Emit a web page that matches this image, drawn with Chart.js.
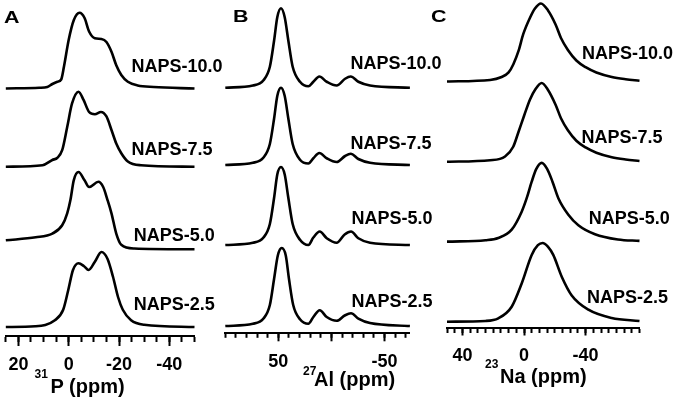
<!DOCTYPE html>
<html>
<head>
<meta charset="utf-8">
<script src="https://cdn.jsdelivr.net/npm/chart.js@4.4.0/dist/chart.umd.min.js"></script>
<style>
    html, body { margin: 0; padding: 0; background: #fff; }
    #figure { position: relative; width: 678px; height: 399px; overflow: hidden;
              font-family: "Liberation Sans", Arial, sans-serif; font-weight: bold; color: #000; }
    #figure canvas { position: absolute; left: 0; top: 0; }
    .lbl { position: absolute; white-space: nowrap; line-height: 1; }
    .panel { font-size: 16.5px; transform: scaleX(1.3); transform-origin: left top; }
    .naps { font-size: 18px; }
    .sup { font-size: 12px; }
    .axt { font-size: 20px; }
</style>
</head>
<body>
<div id="figure">
    <canvas id="chart-p" width="678" height="399"></canvas>
    <canvas id="chart-al" width="678" height="399"></canvas>
    <canvas id="chart-na" width="678" height="399"></canvas>
</div>
<script>
// sample names, bottom trace first
const samples = ['NAPS-2.5', 'NAPS-5.0', 'NAPS-7.5', 'NAPS-10.0'];

// 31P MAS NMR, [ppm, relative intensity]
const p31_naps25 = [[25, 0], [13.3, 0.01], [5.5, 0.09], [2.2, 0.23], [0.2, 0.49], [-1.7, 0.76], [-3.9, 0.85],
    [-6.1, 0.81], [-7.9, 0.76], [-10.4, 0.87], [-13, 1.0], [-15.4, 0.91], [-17.6, 0.67], [-19.6, 0.4],
    [-21.5, 0.23], [-24.8, 0.09], [-30, 0.03], [-50, 0]];
const p31_naps50 = [[25, 0.12], [13.1, 0.16], [6.5, 0.21], [2.6, 0.32], [0.6, 0.48], [-0.7, 0.66], [-2, 0.92],
    [-3.9, 1.03], [-6.3, 0.92], [-8.1, 0.83], [-11.8, 0.9], [-13.7, 0.83], [-15.4, 0.66], [-17, 0.48],
    [-18.9, 0.21], [-20.9, 0.06], [-26.1, 0.01], [-50, 0]];
const p31_naps75 = [[25, 0], [10.4, 0.02], [6.5, 0.09], [4.5, 0.12], [2.6, 0.22], [0.6, 0.53], [-1.3, 0.84],
    [-3.9, 1.0], [-5.9, 0.89], [-8.1, 0.73], [-10.4, 0.7], [-12.8, 0.73], [-15, 0.67], [-17, 0.49],
    [-18.9, 0.31], [-20.9, 0.18], [-23.5, 0.07], [-28.7, 0.02], [-50, 0]];
const p31_naps100 = [[25, 0], [11.7, 0.01], [8.5, 0.02], [6.5, 0.06], [4.5, 0.09], [3, 0.12], [1.9, 0.29],
    [0, 0.65], [-2, 0.91], [-4.3, 1.01], [-6.3, 0.94], [-8.1, 0.76], [-10.4, 0.67], [-13, 0.66], [-15, 0.62],
    [-17, 0.49], [-18.9, 0.31], [-20.9, 0.18], [-23.5, 0.09], [-27.4, 0.04], [-33.8, 0.02], [-50, 0]];

// 27Al MAS NMR
const al27_naps25 = [[100, 0], [74, 0.03], [64, 0.1], [58, 0.28], [54, 0.63], [50.5, 0.94], [46.8, 1.04],
    [43, 0.94], [40, 0.63], [36, 0.28], [29.6, 0.09], [21.7, 0.03], [17, 0.12], [11, 0.21], [4.4, 0.12],
    [-5, 0.07], [-12.5, 0.14], [-18.5, 0.17], [-25.4, 0.1], [-36.4, 0.04], [-74, 0]];
const al27_naps50 = [[100, 0], [74, 0.03], [64, 0.1], [58, 0.28], [54, 0.63], [51, 0.94], [47.5, 1.04],
    [44, 0.94], [40.6, 0.63], [36.5, 0.28], [29.6, 0.07], [21.7, 0], [17, 0.1], [11, 0.18], [4.4, 0.09],
    [-5, 0.03], [-12.5, 0.14], [-18.5, 0.18], [-25.4, 0.09], [-36.4, 0.03], [-74, 0]];
const al27_naps75 = [[100, 0], [74, 0.03], [64, 0.1], [58, 0.28], [54, 0.62], [51, 0.92], [47.5, 1.03],
    [44, 0.92], [40.6, 0.62], [36.5, 0.28], [29.6, 0.07], [21.7, 0.02], [17, 0.09], [11.4, 0.16], [4.4, 0.09],
    [-5, 0.04], [-12.9, 0.12], [-18.2, 0.15], [-25.4, 0.08], [-36.4, 0.03], [-74, 0]];
const al27_naps100 = [[100, 0], [74, 0.03], [64, 0.1], [58, 0.28], [54, 0.63], [51, 0.94], [47.5, 1.06],
    [44, 0.94], [40.6, 0.63], [36.5, 0.28], [29.6, 0.08], [21.7, 0.02], [17, 0.08], [11.4, 0.15], [4.4, 0.08],
    [-5, 0.03], [-12.9, 0.12], [-18.2, 0.15], [-25.4, 0.08], [-36.4, 0.03], [-74, 0]];

// 23Na MAS NMR
const na23_naps25 = [[50, 0], [25, 0.01], [16.7, 0.045], [8, 0.2], [1.5, 0.51], [-5, 0.89], [-9, 1.02],
    [-12.1, 1.05], [-15.5, 1.0], [-19, 0.89], [-24.5, 0.6], [-31, 0.35], [-41.8, 0.16], [-56.9, 0.05],
    [-75, 0.01]];
const na23_naps50 = [[50, 0], [25, 0.02], [16.7, 0.05], [8, 0.16], [1.5, 0.4], [-1.75, 0.58], [-5, 0.8],
    [-8, 0.97], [-11.5, 1.05], [-15, 0.97], [-18.5, 0.8], [-22.3, 0.58], [-28.8, 0.36], [-35.3, 0.22],
    [-46.1, 0.1], [-61, 0.03], [-75, 0.01]];
const na23_naps75 = [[50, 0], [22, 0.02], [12.3, 0.07], [7, 0.2], [3.7, 0.39], [0, 0.61], [-3.9, 0.83],
    [-7.5, 0.97], [-11.5, 1.05], [-15.5, 0.96], [-20.5, 0.76], [-24, 0.58], [-28.5, 0.42], [-34, 0.28],
    [-40, 0.19], [-47, 0.12], [-57, 0.06], [-66, 0.03], [-75, 0.01]];
const na23_naps100 = [[50, 0], [22, 0.02], [14.5, 0.06], [10, 0.12], [6.9, 0.23], [3.5, 0.41], [0.5, 0.63],
    [-3.9, 0.85], [-7, 0.97], [-11, 1.04], [-15.5, 0.95], [-20.5, 0.76], [-24, 0.58], [-28.5, 0.42],
    [-34, 0.28], [-40, 0.19], [-47, 0.12], [-57, 0.06], [-66, 0.03], [-75, 0.01]];

// vertical stacking of the traces (intensity units, bottom trace first)
const p31Offsets = [0, 1.036, 2.137, 3.18];
const al27Offsets = [0, 1.08, 2.147, 3.177];
const na23Offsets = [0, 1.067, 2.133, 3.203];

// major ticks and their labels
const p31Majors = [20, 0, -20, -40];
const p31TickLabels = ['20', '0', '-20', '-40'];
const al27Majors = [50, 0, -50];
const al27TickLabels = ['50', '', '-50'];
const na23Majors = [40, 0, -40];
const na23TickLabels = ['40', '0', '-40'];

const FONT = '"Liberation Sans", Arial, sans-serif';
const W = 678, H = 399;

function buildPanel(id, spectra, offsets, cfg) {
    const datasets = spectra.map((spec, i) => ({
        label: samples[i],
        data: spec.map(([ppm, val]) => ({ x: ppm, y: val + offsets[i] })),
        borderColor: '#000',
        borderWidth: 2.6,
        pointRadius: 0,
        fill: false,
        cubicInterpolationMode: 'monotone',
        clip: false
    }));

    return new Chart(document.getElementById(id), {
        type: 'line',
        data: { datasets },
        options: {
            responsive: false,
            animation: false,
            devicePixelRatio: 1,
            events: [],
            layout: { padding: { left: cfg.left, right: W - cfg.right, top: 0, bottom: 0 } },
            plugins: { legend: { display: false }, tooltip: { enabled: false } },
            scales: {
                xMinor: {
                    type: 'linear',
                    position: 'bottom',
                    weight: 0,
                    reverse: true,
                    min: cfg.min,
                    max: cfg.max,
                    afterFit: (s) => { s.height = 0; },
                    border: { display: true, color: '#000', width: 2 },
                    grid: { drawOnChartArea: false, tickLength: cfg.minorLen, tickWidth: 2, tickColor: '#000' },
                    ticks: { stepSize: cfg.minorStep, includeBounds: false, autoSkip: false, maxRotation: 0,
                             callback: () => '' }
                },
                x: {
                    type: 'linear',
                    position: 'bottom',
                    weight: 1,
                    reverse: true,
                    min: cfg.min,
                    max: cfg.max,
                    afterFit: (s) => { s.height = H - cfg.axisY; },
                    afterBuildTicks: (s) => { s.ticks = cfg.majors.map(v => ({ value: v })); },
                    border: { display: false },
                    grid: { drawOnChartArea: false, tickLength: cfg.majorLen, tickWidth: 2, tickColor: '#000' },
                    ticks: {
                        autoSkip: false,
                        maxRotation: 0,
                        padding: cfg.labelPad,
                        color: '#000',
                        font: { family: FONT, size: 18, weight: 'bold' },
                        callback: (v) => cfg.tickLabels[cfg.majors.indexOf(v)]
                    }
                },
                y: { display: false, min: cfg.yMin, max: cfg.yMax }
            }
        }
    });
}

buildPanel('chart-p', [p31_naps25, p31_naps50, p31_naps75, p31_naps100], p31Offsets, {
    left: 2.7, right: 194.5, min: -50, max: 25, minorStep: 5,
    majors: p31Majors, tickLabels: p31TickLabels,
    axisY: 336, majorLen: 10, minorLen: 6, labelPad: 8,
    yMin: -0.12, yMax: 4.36
});

buildPanel('chart-al', [al27_naps25, al27_naps50, al27_naps75, al27_naps100], al27Offsets, {
    left: 225.3, right: 409.9, min: -74, max: 100, minorStep: 10,
    majors: al27Majors, tickLabels: al27TickLabels,
    axisY: 333.3, majorLen: 8, minorLen: 4.5, labelPad: 10,
    yMin: -0.097, yMax: 4.347
});

buildPanel('chart-na', [na23_naps25, na23_naps50, na23_naps75, na23_naps100], na23Offsets, {
    left: 447, right: 639.5, min: -75, max: 50, minorStep: 5,
    majors: na23Majors, tickLabels: na23TickLabels,
    axisY: 328, majorLen: 7.5, minorLen: 5, labelPad: 10,
    yMin: -0.084, yMax: 4.289
});

// text overlays: panel letters, sample names, axis titles
const fig = document.getElementById('figure');
function addText(text, cls, left, top) {
    const el = document.createElement('span');
    el.className = 'lbl ' + cls;
    el.textContent = text;
    el.style.left = left + 'px';
    el.style.top = top + 'px';
    fig.appendChild(el);
}

addText('A', 'panel', 4, 8.5);
addText('B', 'panel', 232.5, 8);
addText('C', 'panel', 431, 8);

// name label spots (left, cap centre), bottom trace first
const nameSpots = [
    [[135, 304], [135, 235], [132.7, 148.8], [132.7, 65.5]],
    [[352.7, 300.5], [352.7, 218], [351.7, 143], [351.7, 62.5]],
    [[588.3, 296.3], [590, 217.5], [582.7, 136.3], [583.3, 52.8]]
];
nameSpots.forEach(spots => spots.forEach(([x, cy], i) => addText(samples[i], 'naps', x - 1.3, cy - 8.8)));

addText('31', 'sup', 34.5, 368.4);
addText('P (ppm)', 'axt', 50.5, 375.7);
addText('27', 'sup', 303, 365);
addText('Al (ppm)', 'axt', 314, 369);
addText('23', 'sup', 485, 358.4);
addText('Na (ppm)', 'axt', 500, 365.7);
</script>
</body>
</html>
